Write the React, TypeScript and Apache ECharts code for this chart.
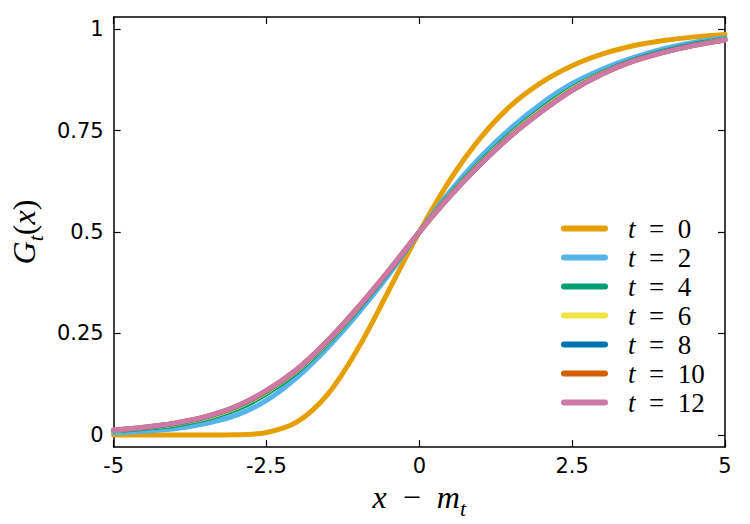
import React, { useEffect, useRef } from "react";
import * as echarts from "echarts";

const xs = [-5, -4.5, -4, -3.5, -3, -2.5, -2, -1.5, -1, -0.5, 0, 0.5, 1, 1.5, 2, 2.5, 3, 3.5, 4, 4.5, 5];

const g0 = [0, 0, 0, 0, 0.0005, 0.006, 0.032, 0.1, 0.214, 0.356, 0.5, 0.628, 0.732, 0.812, 0.869, 0.91, 0.939, 0.959, 0.972, 0.981, 0.987];
const g2 = [0.005, 0.009, 0.015, 0.028, 0.048, 0.085, 0.142, 0.215, 0.3, 0.395, 0.5, 0.6, 0.685, 0.757, 0.817, 0.866, 0.902, 0.93, 0.952, 0.968, 0.979];
const g4 = [0.01, 0.016, 0.024, 0.039, 0.062, 0.101, 0.155, 0.226, 0.31, 0.402, 0.5, 0.592, 0.673, 0.744, 0.804, 0.855, 0.894, 0.924, 0.946, 0.963, 0.975];
const g6 = [0.011, 0.018, 0.027, 0.042, 0.067, 0.106, 0.159, 0.229, 0.313, 0.404, 0.5, 0.59, 0.67, 0.74, 0.8, 0.852, 0.892, 0.922, 0.944, 0.961, 0.974];
const g8 = [0.012, 0.018, 0.028, 0.044, 0.069, 0.108, 0.161, 0.231, 0.314, 0.404, 0.5, 0.589, 0.668, 0.738, 0.798, 0.85, 0.891, 0.922, 0.944, 0.961, 0.973];
const g10 = [0.012, 0.019, 0.029, 0.045, 0.07, 0.109, 0.162, 0.232, 0.315, 0.405, 0.5, 0.588, 0.667, 0.737, 0.797, 0.849, 0.89, 0.921, 0.943, 0.96, 0.973];
const g12 = [0.012, 0.019, 0.029, 0.045, 0.07, 0.11, 0.162, 0.232, 0.315, 0.405, 0.5, 0.588, 0.667, 0.737, 0.797, 0.849, 0.89, 0.921, 0.943, 0.96, 0.973];

const tValues = ["0", "2", "4", "6", "8", "10", "12"];
const seriesValues = [g0, g2, g4, g6, g8, g10, g12];
const colors = ["#E69F00", "#56B4E9", "#009E73", "#F0E442", "#0072B2", "#D55E00", "#CC79A7"];
const yTicks = [0, 0.25, 0.5, 0.75, 1];

const serif = "'Liberation Serif', 'DejaVu Serif', serif";
const sans = "'DejaVu Sans', sans-serif";

export default function App() {
  const ref = useRef<HTMLDivElement>(null);
  useEffect(() => {
    if (!ref.current) return;
    const chart = echarts.init(ref.current, null, { renderer: "svg" });
    const axisLine = { show: true, onZero: false, lineStyle: { color: "#000", width: 1.5 } };
    const tick = { show: true, inside: true, length: 7, lineStyle: { color: "#000", width: 1.2 } };
    const titleRich = {
      i: { fontFamily: serif, fontStyle: "italic", fontSize: 32, color: "#000", lineHeight: 38, verticalAlign: "top" },
      r: { fontFamily: serif, fontSize: 32, color: "#000", lineHeight: 38, verticalAlign: "top" },
      s: { fontFamily: serif, fontStyle: "italic", fontSize: 22, color: "#000", lineHeight: 38, verticalAlign: "bottom" },
    };
    const option: any = {
      animation: false,
      backgroundColor: "#fff",
      grid: { left: 107, right: 25, top: 17, bottom: 76, containLabel: false },
      legend: {
        orient: "vertical",
        left: 556,
        top: 210,
        itemWidth: 47,
        itemHeight: 6,
        itemGap: 2,
        icon: "path://M3,0 H44 A3,3 0 0 1 44,6 H3 A3,3 0 0 1 3,0 Z",
        data: tValues.map((t) => "t = " + t),
        formatter: (name: string) => "{i|t}{r|  =  " + name.split("= ")[1] + "}",
        textStyle: {
          padding: [0, 0, 0, 15],
          lineHeight: 22,
          rich: {
            i: { fontFamily: serif, fontStyle: "italic", fontSize: 27, color: "#000", lineHeight: 22 },
            r: { fontFamily: serif, fontSize: 27, color: "#000", lineHeight: 22 },
          },
        },
      },
      xAxis: [
        {
          type: "value",
          min: -5,
          max: 5,
          interval: 2.5,
          position: "bottom",
          axisLine,
          axisTick: tick,
          splitLine: { show: false },
          axisLabel: { fontFamily: sans, fontSize: 21, color: "#000", margin: 8 },
          name: "{i|x}{r|  −  }{i|m}{s|t}",
          nameLocation: "middle",
          nameGap: 30,
          nameTextStyle: { rich: titleRich },
        },
        {
          type: "value",
          min: -5,
          max: 5,
          interval: 2.5,
          position: "top",
          axisLine,
          axisTick: tick,
          axisLabel: { show: false },
          splitLine: { show: false },
        },
      ],
      yAxis: [
        {
          type: "value",
          min: -0.03,
          max: 1.03,
          position: "left",
          axisLine,
          axisTick: { ...tick, customValues: yTicks },
          splitLine: { show: false },
          axisLabel: { fontFamily: sans, fontSize: 21, color: "#000", margin: 10, customValues: yTicks },
          name: "{i|G}{s|t}{r|(}{i|x}{r|)}",
          nameLocation: "middle",
          nameRotate: 90,
          nameGap: 60,
          nameTextStyle: { rich: titleRich },
        },
        {
          type: "value",
          min: -0.03,
          max: 1.03,
          position: "right",
          axisLine,
          axisTick: { ...tick, customValues: yTicks },
          axisLabel: { show: false, customValues: yTicks },
          splitLine: { show: false },
        },
      ],
      series: seriesValues.map((vals, k) => ({
        name: "t = " + tValues[k],
        type: "line",
        xAxisIndex: 0,
        yAxisIndex: 0,
        data: xs.map((x, i) => [x, vals[i]]),
        showSymbol: false,
        smooth: 0.35,
        color: colors[k],
        lineStyle: { width: 5, color: colors[k], cap: "round" },
        z: 2 + k,
      })),
    };
    chart.setOption(option);
    return () => chart.dispose();
  }, []);
  return <div ref={ref} style={{ width: 750, height: 524, position: "absolute", left: 0, top: 0 }} />;
}
